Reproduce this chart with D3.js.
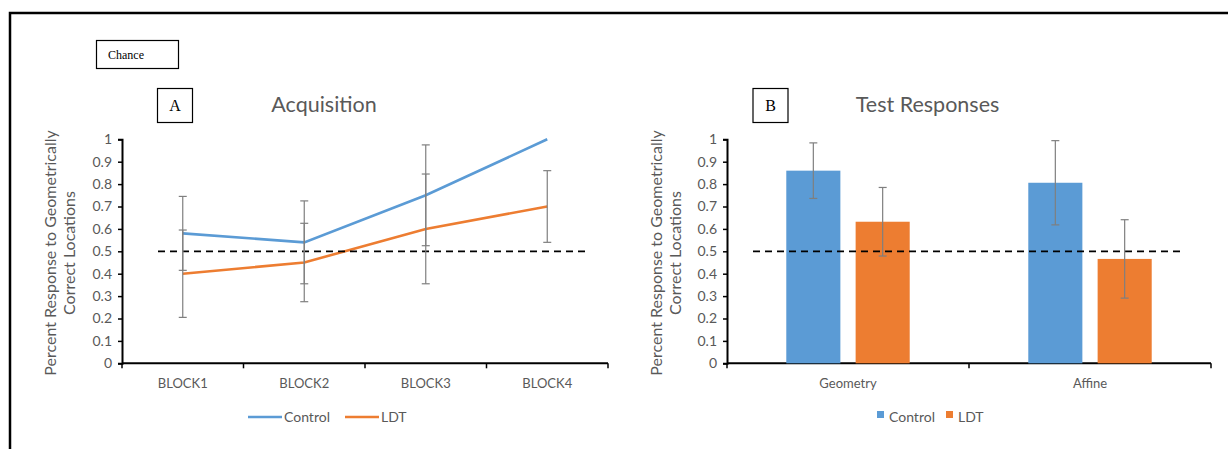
<!DOCTYPE html>
<html lang="en">
<head>
<meta charset="UTF-8">
<title>Acquisition and Test Responses</title>
<script src="https://d3js.org/d3.v7.min.js"></script>
<style>
  body { margin: 0; background: #fff; }
  svg text { font-family: Lato, "Open Sans", sans-serif; }
</style>
</head>
<body>
<svg id="chart" width="1228" height="449"></svg>
<script>
// data
const blocks = ["BLOCK1", "BLOCK2", "BLOCK3", "BLOCK4"];
const controlAcq = [0.58, 0.54, 0.75, 1.0];
const controlAcqErr = [0.165, 0.185, 0.225, 0];
const ldtAcq = [0.40, 0.45, 0.60, 0.70];
const ldtAcqErr = [0.195, 0.175, 0.245, 0.16];

const testCats = ["Geometry", "Affine"];
const controlTest = [0.86, 0.806];
const controlTestErr = [0.124, 0.188];
const ldtTest = [0.632, 0.466];
const ldtTestErr = [0.153, 0.175];

const seriesNames = ["Control", "LDT"];
const yTicks = [0, 0.1, 0.2, 0.3, 0.4, 0.5, 0.6, 0.7, 0.8, 0.9, 1];
const chance = 0.5;

const blue = "#5B9BD5", orange = "#ED7D31", grey = "#595959", errGrey = "#7f7f7f";

const svg = d3.select("#chart");

// outer frame (top + left)
svg.append("path").attr("d", "M10,449 V13 H1228")
  .attr("fill", "none").attr("stroke", "#000").attr("stroke-width", 2.5);

// "Chance" box
svg.append("rect").attr("x", 96.5).attr("y", 40.5).attr("width", 82).attr("height", 28)
  .attr("fill", "#fff").attr("stroke", "#000").attr("stroke-width", 1.2);
svg.append("text").attr("x", 108).attr("y", 59).text("Chance")
  .style("font-family", "'Liberation Serif', serif").attr("font-size", 12);

function letterBox(x, label) {
  svg.append("rect").attr("x", x).attr("y", 88.5).attr("width", 35).attr("height", 34)
    .attr("fill", "#fff").attr("stroke", "#000").attr("stroke-width", 1.2);
  svg.append("text").attr("x", x + 17.5).attr("y", 111).attr("text-anchor", "middle")
    .style("font-family", "'Liberation Serif', serif").attr("font-size", 16).text(label);
}
letterBox(157.5, "A");
letterBox(753, "B");

const y = d3.scaleLinear().domain([0, 1]).range([363.3, 139.3]);

function frame(x0, x1, title, titleX, labelX) {
  // y axis
  const ya = svg.append("g").attr("transform", `translate(${x0},0)`)
    .call(d3.axisLeft(y).tickValues(yTicks).tickSize(4).tickPadding(6)
      .tickFormat(d => d3.format("")(+d.toFixed(1))));
  ya.select(".domain").attr("stroke", "#000").attr("stroke-width", 2);
  ya.selectAll(".tick line").attr("stroke", "#000").attr("stroke-width", 1.5);
  ya.selectAll("text").attr("fill", grey).attr("font-size", 14)
    .style("font-family", "Lato, sans-serif");

  svg.append("text").attr("x", titleX).attr("y", 112).attr("text-anchor", "middle")
    .attr("fill", grey).attr("font-size", 21.5).text(title);

  const lab = svg.append("text").attr("transform", `translate(${labelX},253) rotate(-90)`)
    .attr("text-anchor", "middle").attr("fill", grey).attr("font-size", 16);
  lab.append("tspan").attr("x", 0).attr("dy", 0).text("Percent Response to Geometrically");
  lab.append("tspan").attr("x", 0).attr("dy", 18.5).text("Correct Locations");
}

function xAxis(x0scale, x0, x1) {
  const g = svg.append("g");
  g.append("line").attr("x1", x0).attr("x2", x1).attr("y1", y(0)).attr("y2", y(0))
    .attr("stroke", "#000").attr("stroke-width", 2);
  const edges = x0scale.domain().map(d => x0scale(d)).concat([x1]);
  g.selectAll(".xt").data(edges).enter().append("line")
    .attr("x1", d => d).attr("x2", d => d).attr("y1", y(0)).attr("y2", y(0) + 5)
    .attr("stroke", "#000").attr("stroke-width", 1.5);
  g.selectAll(".xl").data(x0scale.domain()).enter().append("text")
    .attr("x", d => x0scale(d) + x0scale.bandwidth() / 2).attr("y", 388)
    .attr("text-anchor", "middle").attr("fill", grey).attr("font-size", 13).text(d => d);
}

function errBar(cx, v, e) {
  if (!e) return;
  const g = svg.append("g").attr("stroke", errGrey).attr("stroke-width", 1.2);
  g.append("line").attr("x1", cx).attr("x2", cx).attr("y1", y(v - e)).attr("y2", y(v + e));
  [v - e, v + e].forEach(t => g.append("line").attr("x1", cx - 4).attr("x2", cx + 4)
    .attr("y1", y(t)).attr("y2", y(t)));
}

function chanceLine(xa, xb) {
  svg.append("line").attr("x1", xa).attr("x2", xb).attr("y1", y(chance)).attr("y2", y(chance))
    .attr("stroke", "#000").attr("stroke-width", 1.8).attr("stroke-dasharray", "7 5");
}

// ---- panel A: acquisition lines
frame(122, 608, "Acquisition", 324, 56);
const xA = d3.scaleBand().domain(blocks).range([122, 608]);
xAxis(xA, 122, 608);
const cxA = d => xA(d) + xA.bandwidth() / 2;

const line = d3.line().x(d => cxA(d.cat)).y(d => y(d.v));
const acq = [
  { name: "Control", color: blue, vals: controlAcq, errs: controlAcqErr },
  { name: "LDT", color: orange, vals: ldtAcq, errs: ldtAcqErr }
];
acq.forEach(s => {
  svg.append("path").datum(blocks.map((c, i) => ({ cat: c, v: s.vals[i] })))
    .attr("d", line).attr("fill", "none").attr("stroke", s.color).attr("stroke-width", 2.6);
});
chanceLine(158, 585);
acq.forEach(s => blocks.forEach((c, i) => errBar(cxA(c), s.vals[i], s.errs[i])));

// legend A
[{ name: "Control", color: blue, x: 248 }, { name: "LDT", color: orange, x: 345 }].forEach(l => {
  svg.append("line").attr("x1", l.x).attr("x2", l.x + 34).attr("y1", 417).attr("y2", 417)
    .attr("stroke", l.color).attr("stroke-width", 2.6);
  svg.append("text").attr("x", l.x + 36).attr("y", 422).attr("fill", grey)
    .attr("font-size", 14).text(l.name);
});

// ---- panel B: test bars
frame(727, 1211, "Test Responses", 927.5, 662);
const xB = d3.scaleBand().domain(testCats).range([727, 1211]);
xAxis(xB, 727, 1211);
const groupW = xB.bandwidth() * 0.51;
const xB1 = d3.scaleBand().domain(seriesNames).range([0, groupW]).paddingInner(0.22);
const groupOff = (xB.bandwidth() - groupW) / 2;

const test = [
  { name: "Control", color: blue, vals: controlTest, errs: controlTestErr },
  { name: "LDT", color: orange, vals: ldtTest, errs: ldtTestErr }
];
test.forEach(s => {
  svg.selectAll(null).data(testCats).enter().append("rect")
    .attr("x", d => xB(d) + groupOff + xB1(s.name))
    .attr("width", xB1.bandwidth())
    .attr("y", (d, i) => y(s.vals[i]))
    .attr("height", (d, i) => y(0) - y(s.vals[i]))
    .attr("fill", s.color);
});
chanceLine(753, 1180);
test.forEach(s => testCats.forEach((c, i) =>
  errBar(xB(c) + groupOff + xB1(s.name) + xB1.bandwidth() / 2, s.vals[i], s.errs[i])));

// legend B
[{ name: "Control", color: blue, x: 877 }, { name: "LDT", color: orange, x: 946 }].forEach(l => {
  svg.append("rect").attr("x", l.x).attr("y", 411).attr("width", 7).attr("height", 7).attr("fill", l.color);
  svg.append("text").attr("x", l.x + 12).attr("y", 422).attr("fill", grey)
    .attr("font-size", 14).text(l.name);
});
</script>
</body>
</html>
